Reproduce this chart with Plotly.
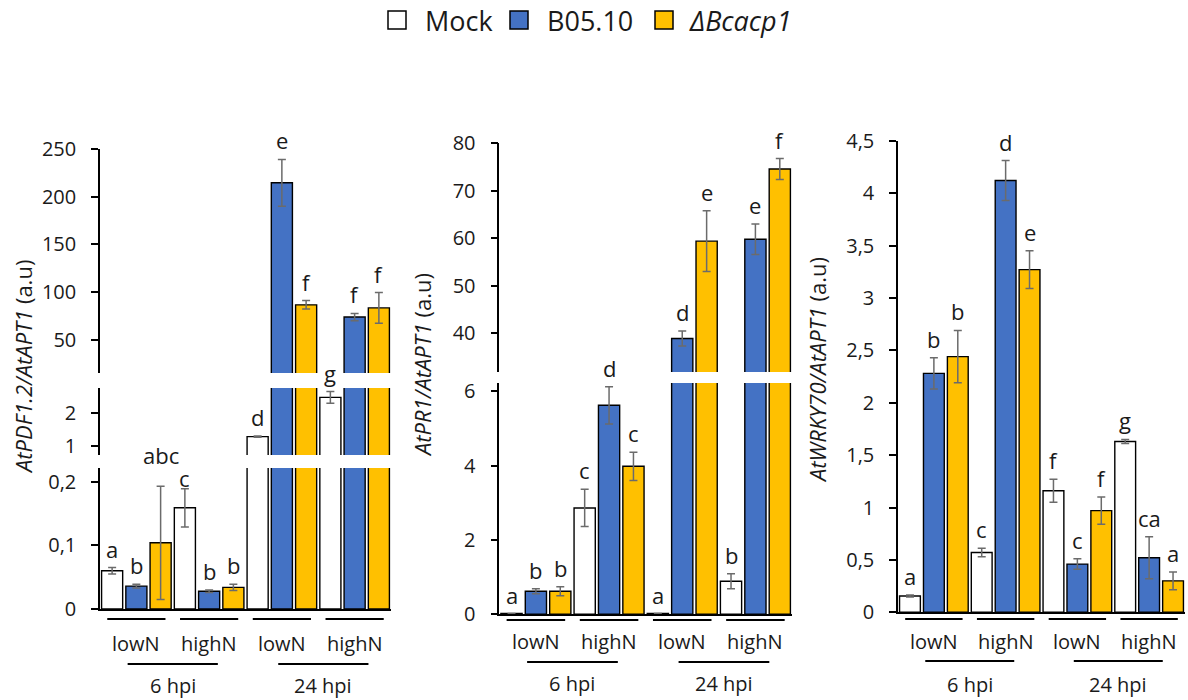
import plotly.graph_objects as go

W, H = 1188, 700

# ---------------- data ----------------
series_names = ["Mock", "B05.10", "<i>ΔBcacp1</i>"]
series_colors = ["#FFFFFF", "#4472C4", "#FFC000"]
nitrogen = ["lowN", "highN", "lowN", "highN"]
timepoints = ["6 hpi", "24 hpi"]
group_index = [0, 1, 2, 3]

# Panel 1: AtPDF1.2 / AtAPT1
pdf_mock = [0.060, 0.159, 1.28, 2.49]
pdf_mock_err = [0.005, 0.030, 0.02, 0.18]
pdf_b05 = [0.036, 0.028, 214.6, 74.0]
pdf_b05_err = [0.003, 0.002, 24.5, 3.8]
pdf_dcacp = [0.104, 0.034, 86.8, 83.6]
pdf_dcacp_err = [0.089, 0.005, 4.5, 16.0]
pdf_letters_mock = ["a", "c", "d", "g"]
pdf_letters_b05 = ["b", "b", "e", "f"]
pdf_letters_dcacp = ["abc", "b", "f", "f"]
pdf_ticks_low = [0, 0.1, 0.2]
pdf_ticktext_low = ["0", "0,1", "0,2"]
pdf_ticks_mid = [1, 2]
pdf_ticktext_mid = ["1", "2"]
pdf_ticks_high = [50, 100, 150, 200, 250]
pdf_ticktext_high = ["50", "100", "150", "200", "250"]

# Panel 2: AtPR1 / AtAPT1
pr_mock = [0.02, 2.86, 0.02, 0.89]
pr_mock_err = [0.0, 0.50, 0.0, 0.20]
pr_b05 = [0.62, 5.62, 38.9, 59.8]
pr_b05_err = [0.07, 0.50, 1.6, 3.2]
pr_dcacp = [0.62, 3.98, 59.4, 74.6]
pr_dcacp_err = [0.12, 0.38, 6.4, 2.2]
pr_letters_mock = ["a", "c", "a", "b"]
pr_letters_b05 = ["b", "d", "d", "e"]
pr_letters_dcacp = ["b", "c", "e", "f"]
pr_ticks_low = [0, 2, 4, 6]
pr_ticktext_low = ["0", "2", "4", "6"]
pr_ticks_high = [40, 50, 60, 70, 80]
pr_ticktext_high = ["40", "50", "60", "70", "80"]

# Panel 3: AtWRKY70 / AtAPT1
wr_mock = [0.155, 0.57, 1.16, 1.63]
wr_mock_err = [0.01, 0.04, 0.11, 0.02]
wr_b05 = [2.28, 4.12, 0.46, 0.52]
wr_b05_err = [0.15, 0.19, 0.05, 0.20]
wr_dcacp = [2.44, 3.27, 0.97, 0.30]
wr_dcacp_err = [0.25, 0.18, 0.13, 0.085]
wr_letters_mock = ["a", "c", "f", "g"]
wr_letters_b05 = ["b", "d", "c", "ca"]
wr_letters_dcacp = ["b", "e", "f", "a"]
wr_ticks = [0, 0.5, 1, 1.5, 2, 2.5, 3, 3.5, 4, 4.5]
wr_ticktext = ["0", "0,5", "1", "1,5", "2", "2,5", "3", "3,5", "4", "4,5"]

# ---------------- layout description (pixel geometry) ----------------
panels = [
    dict(title="<i>AtPDF1.2/AtAPT1</i> (a.u)",
         values=[pdf_mock, pdf_b05, pdf_dcacp],
         errors=[pdf_mock_err, pdf_b05_err, pdf_dcacp_err],
         letters=[pdf_letters_mock, pdf_letters_b05, pdf_letters_dcacp],
         nudges={(0, 1): -8, (2, 0): 12},
         xpx=(100, 391), title_px=(23, 367),
         rows_px=(619, 643, 664, 685),
         segments=[
             dict(range=[0, 0.2215], px=(609, 468), tv=pdf_ticks_low, tt=pdf_ticktext_low),
             dict(range=[0.713, 2.78], px=(455, 388), tv=pdf_ticks_mid, tt=pdf_ticktext_mid),
             dict(range=[15.4, 250], px=(373, 149), tv=pdf_ticks_high, tt=pdf_ticktext_high),
         ]),
    dict(title="<i>AtPR1/AtAPT1</i> (a.u)",
         values=[pr_mock, pr_b05, pr_dcacp],
         errors=[pr_mock_err, pr_b05_err, pr_dcacp_err],
         letters=[pr_letters_mock, pr_letters_b05, pr_letters_dcacp],
         nudges={},
         xpx=(499.3, 792), title_px=(422, 365),
         rows_px=(620, 641, 662, 683),
         segments=[
             dict(range=[0, 6.22], px=(614.3, 383), tv=pr_ticks_low, tt=pr_ticktext_low),
             dict(range=[31.85, 80], px=(372, 143.3), tv=pr_ticks_high, tt=pr_ticktext_high),
         ]),
    dict(title="<i>AtWRKY70/AtAPT1</i> (a.u)",
         values=[wr_mock, wr_b05, wr_dcacp],
         errors=[wr_mock_err, wr_b05_err, wr_dcacp_err],
         letters=[wr_letters_mock, wr_letters_b05, wr_letters_dcacp],
         nudges={},
         xpx=(898, 1185), title_px=(817, 370),
         rows_px=(619, 641, 661, 684),
         segments=[
             dict(range=[0, 4.5], px=(612.3, 140.7), tv=wr_ticks, tt=wr_ticktext),
         ]),
]

FONT = "Open Sans"
TXT = "#1a1a1a"
fig = go.Figure()
layout = dict(
    width=W, height=H, autosize=False,
    margin=dict(l=0, r=0, t=0, b=0, pad=0, autoexpand=False),
    paper_bgcolor="white", plot_bgcolor="white",
    font=dict(family=FONT, color=TXT),
    showlegend=False,
    barmode="group", bargap=0.0, bargroupgap=0.13,
)
annotations = []
shapes = []


def px2x(p):
    return p / W


def px2y(p):
    return 1 - p / H


nseg_total = sum(len(p["segments"]) for p in panels)
n = 0
for p in panels:
    seg_ids = []
    for si, seg in enumerate(p["segments"]):
        n += 1
        seg_ids.append(n)
        sfx = "" if n == 1 else str(n)
        xdom = [px2x(p["xpx"][0]), px2x(p["xpx"][1])]
        ydom = [px2y(seg["px"][0]), px2y(seg["px"][1])]
        bottom = si == 0
        layout["xaxis" + sfx] = dict(
            domain=xdom, anchor="y" + sfx, range=[-0.5, 3.5],
            showline=bottom, linecolor="black", linewidth=1.5,
            ticks="", showticklabels=False, showgrid=False, zeroline=False,
            fixedrange=True, automargin=False,
        )
        layout["yaxis" + sfx] = dict(
            domain=ydom, anchor="x" + sfx, range=seg["range"],
            tickmode="array", tickvals=seg["tv"], ticktext=seg["tt"],
            ticks="outside", ticklen=7, tickwidth=1.5, tickcolor="black",
            showline=True, linecolor="black", linewidth=1.5,
            showgrid=False, zeroline=False,
            tickfont=dict(size=20, color=TXT, family=FONT),
            ticklabelstandoff=11, fixedrange=True, automargin=False,
        )
        # overlay axis providing the inner half of the crossing tick marks
        on = nseg_total + n
        layout["yaxis" + str(on)] = dict(
            overlaying="y" + sfx, anchor="x" + sfx, range=seg["range"],
            tickmode="array", tickvals=seg["tv"],
            ticks="inside", ticklen=7, tickwidth=1.5, tickcolor="black",
            showticklabels=False, showline=False, showgrid=False, zeroline=False,
            fixedrange=True, automargin=False,
        )
        for k in range(3):
            fig.add_trace(go.Bar(
                x=group_index, y=p["values"][k], name=series_names[k],
                marker=dict(color=series_colors[k], line=dict(color="black", width=1.4)),
                error_y=dict(type="data", array=p["errors"][k], color="#6b6b6b",
                             thickness=1.5, width=4),
                xaxis="x" + sfx, yaxis="y" + sfx, offsetgroup=str(k),
                hoverinfo="skip",
            ))

    # significance letters, attached to the segment holding the error-bar top
    for k in range(3):
        for i in group_index:
            top = p["values"][k][i] + p["errors"][k][i]
            target = seg_ids[0]
            for sid, seg in zip(seg_ids, p["segments"]):
                if seg["range"][0] <= top <= seg["range"][1]:
                    target = sid
            sfx = "" if target == 1 else str(target)
            annotations.append(dict(
                x=i + (k - 1) / 3, y=top, xref="x" + sfx, yref="y" + sfx,
                text=p["letters"][k][i], showarrow=False, yanchor="bottom",
                yshift=2 + p["nudges"].get((k, i), 0),
                font=dict(size=22, color=TXT, family=FONT),
            ))

    # category rows under the bottom axis
    b = seg_ids[0]
    bsfx = "" if b == 1 else str(b)
    l1, t1, l2, t2 = p["rows_px"]
    for i, lab in zip(group_index, nitrogen):
        shapes.append(dict(type="line", xref="x" + bsfx, yref="paper",
                           x0=i - 0.4, x1=i + 0.4, y0=px2y(l1), y1=px2y(l1),
                           line=dict(color="black", width=2)))
        annotations.append(dict(x=i, y=px2y(t1), xref="x" + bsfx, yref="paper",
                                text=lab, showarrow=False, yanchor="middle",
                                font=dict(size=20, color=TXT, family=FONT)))
    for c, lab in zip([0.5, 2.57], timepoints):
        shapes.append(dict(type="line", xref="x" + bsfx, yref="paper",
                           x0=c - 0.62, x1=c + 0.62, y0=px2y(l2), y1=px2y(l2),
                           line=dict(color="black", width=2)))
        annotations.append(dict(x=c, y=px2y(t2), xref="x" + bsfx, yref="paper",
                                text=lab, showarrow=False, yanchor="middle",
                                font=dict(size=20, color=TXT, family=FONT)))

    # y title
    annotations.append(dict(x=px2x(p["title_px"][0]), y=px2y(p["title_px"][1]),
                            xref="paper", yref="paper", text=p["title"],
                            textangle=-90, showarrow=False,
                            xanchor="center", yanchor="middle",
                            font=dict(size=22, color=TXT, family=FONT)))

# ---------------- manual legend ----------------
legend_square_px = [388, 510, 655]
legend_text_px = [423, 545, 687]
for k in range(3):
    shapes.append(dict(type="rect", xref="paper", yref="paper",
                       x0=px2x(legend_square_px[k]), x1=px2x(legend_square_px[k] + 18),
                       y0=px2y(29), y1=px2y(11),
                       fillcolor=series_colors[k], line=dict(color="black", width=1.5)))
    annotations.append(dict(x=px2x(legend_text_px[k]), y=px2y(20), xref="paper", yref="paper",
                            text=series_names[k], showarrow=False,
                            xanchor="left", yanchor="middle",
                            font=dict(size=27, color=TXT, family=FONT)))

layout["annotations"] = annotations
layout["shapes"] = shapes
fig.update_layout(**layout)
fig.write_html("out.html", config={"displayModeBar": False},
               post_script="document.body.style.margin='0';")
